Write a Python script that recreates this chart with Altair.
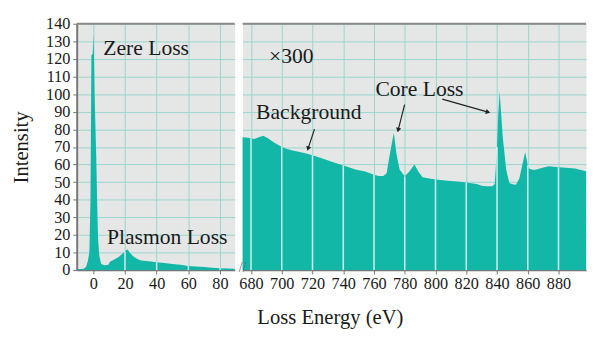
import altair as alt
import pandas as pd

# ---- data ----
# low-loss part (0-90 eV)
low_E = [-10.5, -6, -4.5, -3.5, -2.5, -1.8, -1.2, -0.4, 0, 0.4, 0.8, 1.2, 1.8, 2.4, 3.0, 3.8,
         5, 7, 9.5, 10.5, 12, 14, 16, 18, 20, 21.5, 23, 25, 27, 30, 35, 40, 45, 50, 55,
         60, 65, 70, 75, 80, 85, 89.3]
low_I = [0.5, 0.8, 2, 5, 10, 40, 122, 123, 134, 123, 100, 86, 66, 40, 18, 8,
         3.5, 2.8, 3.0, 4.8, 5.5, 6.5, 7.5, 9, 10.5, 11.8, 10, 8, 6.8, 5.5, 5.0, 4.5, 4.0, 3.5, 3.0,
         2.3, 2.0, 1.7, 1.4, 1.1, 0.9, 0.8]

# core-loss part (x300)
core_E = [674.5, 678, 680, 682, 685, 688, 691, 694.7, 700, 703, 707, 711.7, 716, 720, 726, 733,
          740, 742.6, 748, 754.3, 760, 763, 766, 768.2, 770.3, 772.9, 774.6, 776.7, 780, 783,
          786.3, 788.8, 791.6, 796, 800, 808, 814, 820, 826.8, 830, 833, 837, 838.5, 839.8,
          840, 840.8, 841.7, 843.8, 846, 848, 850, 852.3, 854.5, 856.5, 858.3, 859.5, 860,
          860.8, 863, 865, 869, 873.6, 877, 880, 885, 890.7, 897.9]
core_I = [75.5, 75.2, 75.0, 74.5, 75.5, 76.4, 75.0, 72.7, 70.0, 69.0, 68.0, 67.1, 66.3, 65.3, 63.5, 61.5,
          59.5, 58.7, 57.2, 56.0, 54.2, 53.5, 53.5, 55.0, 66.0, 78.0, 66.0, 57.0, 53.3, 56.0,
          60.0, 56.0, 52.8, 52.0, 51.5, 50.8, 50.4, 49.8, 49.0, 48.0, 47.6, 47.6, 49.0, 66.0,
          70.0, 88.5, 101.5, 75.0, 57.0, 49.5, 48.8, 48.5, 52.0, 60.0, 67.0, 62.0, 59.5,
          57.8, 57.0, 57.0, 58.0, 59.0, 58.8, 58.4, 58.2, 57.8, 56.2]

low_ticks = [0, 20, 40, 60, 80]
core_ticks = [680, 700, 720, 740, 760, 780, 800, 820, 840, 860, 880]
y_ticks = list(range(0, 141, 10))

low_ann_text = ["Zere Loss", "Plasmon Loss"]
low_ann_E = [6.3, 8.6]
low_ann_I = [122.1, 14.7]

core_ann_text = ["\u00d7300", "Background", "Core Loss"]
core_ann_E = [691.7, 683.3, 760.9]
core_ann_I = [117.7, 85.7, 98.7]

arrow_E1 = [721.3, 779.9, 804.4]
arrow_I1 = [80.1, 94.1, 97.2]
arrow_E2 = [717.1, 775.7, 834.2]
arrow_I2 = [69.0, 79.6, 89.8]
arrow_angle = [198, 194, 106]

# ---- style ----
FILL = "#13b7a8"
BG = "#e5e7e7"
GRID = "#98d5cf"
FONT = "Liberation Serif"
TXT = "#1a1a1a"
H = 251
WL = 161
WR = 350

yscale = alt.Scale(domain=[0, 140], nice=False, zero=True)

low = pd.DataFrame({"E": low_E, "I": low_I})
core = pd.DataFrame({"E": core_E, "I": core_I})
one = pd.DataFrame({"a": [0]})


def panel(df, xdom, W, xaxis, yaxis, ann, extra=None):
    xs = alt.Scale(domain=xdom, nice=False, zero=False)
    X = lambda f: alt.X(f, scale=xs, axis=xaxis)
    Y = lambda f: alt.Y(f, scale=yscale, axis=yaxis)
    area = alt.Chart(df).mark_area(color=FILL, opacity=1, interpolate="linear").encode(
        x=X("E:Q"), y=Y("I:Q"),
    )
    white = alt.Chart(df).transform_filter(
        "datum.E % 20 == 0 && datum.E > 0"
    ).transform_calculate(z="0").mark_rule(color="white", strokeWidth=1.6, opacity=0.75).encode(
        x=X("E:Q"), y=Y("I:Q"), y2="z:Q"
    )
    top = alt.Chart(one).mark_rule(color="#8a8a8a", strokeWidth=2).encode(
        x=alt.value(0), x2=alt.value(W), y=alt.value(0)
    )
    txt = alt.Chart(ann).mark_text(font=FONT, fontSize=22, color=TXT, align="left",
                                   baseline="alphabetic").encode(
        x=X("E:Q"), y=Y("I:Q"), text="t:N"
    )
    layers = [area, white, top, txt]
    if extra is not None:
        layers += extra(X, Y)
    return alt.layer(*layers).properties(width=W, height=H)


left = panel(
    low, [-10.5, 89.3], WL,
    alt.Axis(values=low_ticks, title=None, grid=True, domainWidth=1.5),
    alt.Axis(values=y_ticks, title="Intensity", grid=True, titlePadding=14, labelPadding=3,
             domainWidth=2),
    pd.DataFrame({"t": low_ann_text, "E": low_ann_E, "I": low_ann_I}),
)


def core_extra(X, Y):
    arr = pd.DataFrame({"E1": arrow_E1, "I1": arrow_I1, "E2": arrow_E2, "I2": arrow_I2,
                        "ang": arrow_angle})
    lines = alt.Chart(arr).mark_rule(color="#222", strokeWidth=1.2).encode(
        x=X("E1:Q"), y=Y("I1:Q"), x2="E2:Q", y2="I2:Q"
    )
    heads = alt.Chart(arr).mark_point(shape="triangle-up", filled=True, color="#222",
                                      size=28, opacity=1).encode(
        x=X("E2:Q"), y=Y("I2:Q"), angle=alt.Angle("ang:Q", scale=None)
    )
    brk = alt.Chart(one).mark_text(text="//", font=FONT, fontSize=14, color="#666",
                                   baseline="middle", align="center").encode(
        x=alt.value(0), y=alt.value(H - 2)
    )
    return [lines, heads, brk]


right = panel(
    core, [674.5, 897.9], WR,
    alt.Axis(values=core_ticks, title="Loss Energy (eV)", grid=True, titleX=89, titleY=54,
             titleBaseline="alphabetic", titleAlign="center", domainWidth=1.5),
    alt.Axis(values=y_ticks, title=None, labels=False, ticks=False, domain=False,
             grid=True, maxExtent=0, minExtent=0),
    pd.DataFrame({"t": core_ann_text, "E": core_ann_E, "I": core_ann_I}),
    core_extra,
)

chart = alt.hconcat(left, right, spacing=1).properties(
    padding={"left": 2, "top": 4, "right": 0, "bottom": 0}
).configure_view(fill=BG, stroke="transparent").configure_axis(
    labelFont=FONT, labelFontSize=16.5, labelColor=TXT, labelOverlap=False, labelFlush=False,
    tickColor="#777", tickSize=4, labelPadding=2, gridColor=GRID, gridWidth=1, gridOpacity=1,
    domainColor="#777", titleFont=FONT, titleFontSize=21, titleFontWeight="normal",
    titleColor=TXT,
)

chart.save("out.html", embed_options={"renderer": "svg", "actions": False})
